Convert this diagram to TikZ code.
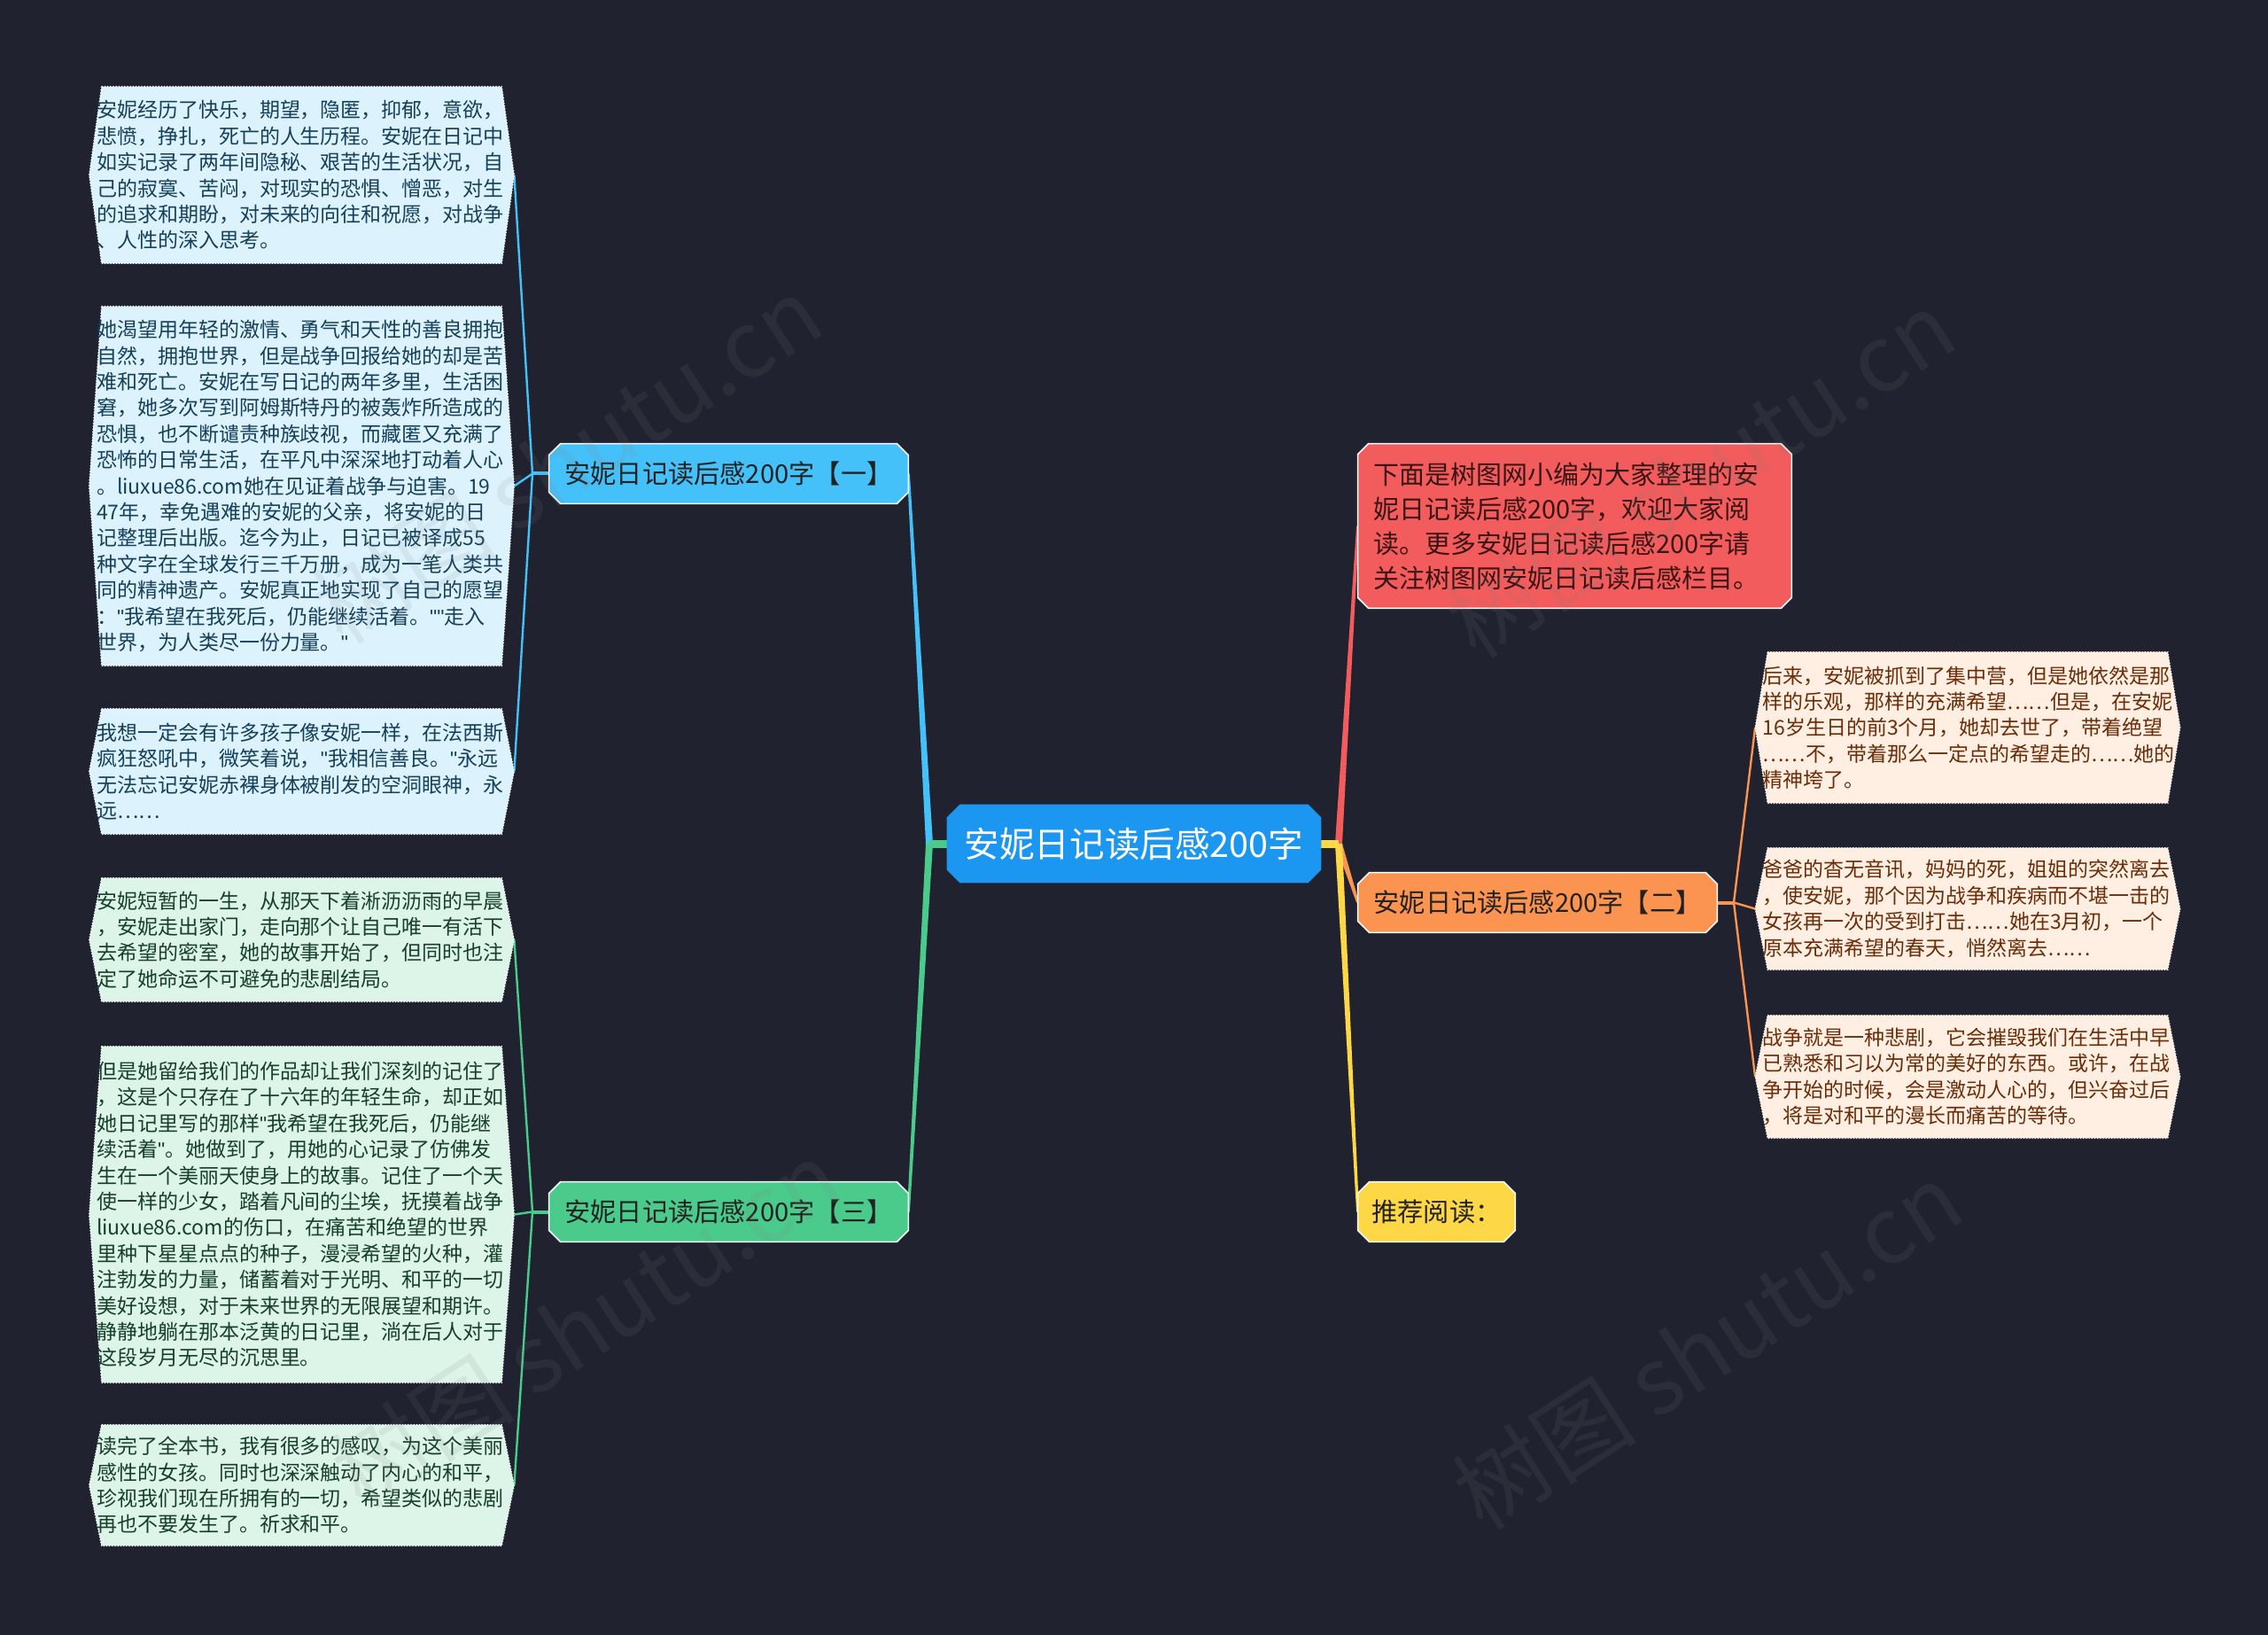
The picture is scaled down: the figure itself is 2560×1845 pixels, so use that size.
\documentclass[tikz,border=0pt]{standalone}
\usepackage{fontspec}
\setmainfont{Noto Sans CJK SC}
\newfontfamily\qfont{Liberation Sans}
\newcommand\myquote{{\qfont"}}
\usetikzlibrary{calc,backgrounds}
\definecolor{bg}{HTML}{20232F}
\definecolor{cmain}{HTML}{1B96F1}
\definecolor{cblue}{HTML}{45C1F9}
\definecolor{cbluel}{HTML}{DCF3FD}
\definecolor{cbluet}{HTML}{163F5A}
\definecolor{cgreen}{HTML}{4ACB8B}
\definecolor{cgreenl}{HTML}{DCF5E8}
\definecolor{cgreent}{HTML}{173F2A}
\definecolor{cred}{HTML}{F25C5C}
\definecolor{credt}{HTML}{3A1414}
\definecolor{corange}{HTML}{FB9450}
\definecolor{corangel}{HTML}{FFEEE2}
\definecolor{coranget}{HTML}{6B2C08}
\definecolor{cyellow}{HTML}{FDD745}
\definecolor{cdark}{HTML}{222222}
\newcommand\octfill[3]{\fill[#2] ($(#1.north west)+(#3,0)$) -- ($(#1.north east)+(-#3,0)$) -- ($(#1.north east)+(0,#3)$) -- ($(#1.south east)+(0,-#3)$) -- ($(#1.south east)+(-#3,0)$) -- ($(#1.south west)+(#3,0)$) -- ($(#1.south west)+(0,-#3)$) -- ($(#1.north west)+(0,#3)$) -- cycle;}
\newcommand\hexfill[2]{\fill[#2] ($(#1.north west)+(14,0)$) -- ($(#1.north east)+(-14,0)$) -- (#1.east) -- ($(#1.south east)+(-14,0)$) -- ($(#1.south west)+(14,0)$) -- (#1.west) -- cycle;}
\newcommand\taper[5]{\fill[#1] ($(#2)+(-#4,0)$) -- ($(#3)+(-#5,0)$) -- ($(#3)+(#5,0)$) -- ($(#2)+(#4,0)$) -- cycle;}
\tikzset{
  leaf/.style={rectangle, inner xsep=4pt, inner ysep=0pt, text width=231.5pt, align=left, font=\fontsize{11.5pt}{14.7pt}\selectfont},
  leafb/.style={leaf, text=cbluet},
  leafg/.style={leaf, text=cgreent},
  leafo/.style={leaf, text=coranget},
  br/.style={rectangle, minimum width=202.5pt, minimum height=33.5pt, inner sep=0pt, font=\fontsize{14.6pt}{17pt}\selectfont, text=cdark},
  leafshape/.style={draw=white, densely dotted, line width=0.6pt},
  brshape/.style={draw=white, line width=0.8pt},
  thinline/.style={line width=1.2pt},
  wm/.style={rotate=33, text=gray, opacity=0.12, font=\fontsize{52pt}{56pt}\selectfont}
}
\begin{document}
\begin{tikzpicture}[x=0.5pt,y=-0.5pt]
\useasboundingbox (0,0) rectangle (2560,1845);
% central node
\node[rectangle, minimum width=211pt, minimum height=44pt, inner sep=0pt, text=white, font=\fontsize{19.8pt}{23pt}\selectfont] (C) at (1280,952) {安妮日记读后感200字};
% branches
\node[br] (B1) at (822.5,534.5) {安妮日记读后感200字【一】};
\node[br] (B3) at (822.5,1367.5) {安妮日记读后感200字【三】};
\node[br] (B2) at (1735.5,1018.5) {安妮日记读后感200字【二】};
\node[br, minimum width=88.5pt] (Y) at (1621.5,1367.5) {推荐阅读：};
\node[rectangle, inner xsep=8.5pt, inner ysep=0pt, text width=227.5pt, minimum height=92.5pt, align=left, text=credt, font=\fontsize{14.5pt}{19.5pt}\selectfont] (R) at (1777.5,593.5) {下面是树图网小编为大家整理的安\\妮日记读后感200字，欢迎大家阅\\读。更多安妮日记读后感200字请\\关注树图网安妮日记读后感栏目。};
% leaves left blue
\node[leafb, minimum height=99.5pt] (L1) at (340.5,197.5) {安妮经历了快乐，期望，隐匿，抑郁，意欲，\\悲愤，挣扎，死亡的人生历程。安妮在日记中\\如实记录了两年间隐秘、艰苦的生活状况，自\\己的寂寞、苦闷，对现实的恐惧、憎恶，对生\\的追求和期盼，对未来的向往和祝愿，对战争\\、人性的深入思考。};
\node[leafb, minimum height=202.5pt] (L2) at (340.5,548.5) {她渴望用年轻的激情、勇气和天性的善良拥抱\\自然，拥抱世界，但是战争回报给她的却是苦\\难和死亡。安妮在写日记的两年多里，生活困\\窘，她多次写到阿姆斯特丹的被轰炸所造成的\\恐惧，也不断谴责种族歧视，而藏匿又充满了\\恐怖的日常生活，在平凡中深深地打动着人心\\。liuxue86.com她在见证着战争与迫害。19\\47年，幸免遇难的安妮的父亲，将安妮的日\\记整理后出版。迄今为止，日记已被译成55\\种文字在全球发行三千万册，成为一笔人类共\\同的精神遗产。安妮真正地实现了自己的愿望\\：\myquote{}我希望在我死后，仍能继续活着。\myquote{}\myquote{}走入\\世界，为人类尽一份力量。\myquote{}};
\node[leafb, minimum height=70.5pt] (L3) at (340.5,870.5) {我想一定会有许多孩子像安妮一样，在法西斯\\疯狂怒吼中，微笑着说，\myquote{}我相信善良。\myquote{}永远\\无法忘记安妮赤裸身体被削发的空洞眼神，永\\远……};
% leaves left green
\node[leafg, minimum height=69.5pt] (G1) at (340.5,1060.5) {安妮短暂的一生，从那天下着淅沥沥雨的早晨\\，安妮走出家门，走向那个让自己唯一有活下\\去希望的密室，她的故事开始了，但同时也注\\定了她命运不可避免的悲剧结局。};
\node[leafg, minimum height=189.5pt] (G2) at (340.5,1370.5) {但是她留给我们的作品却让我们深刻的记住了\\，这是个只存在了十六年的年轻生命，却正如\\她日记里写的那样\myquote{}我希望在我死后，仍能继\\续活着\myquote{}。她做到了，用她的心记录了仿佛发\\生在一个美丽天使身上的故事。记住了一个天\\使一样的少女，踏着凡间的尘埃，抚摸着战争\\liuxue86.com的伤口，在痛苦和绝望的世界\\里种下星星点点的种子，漫浸希望的火种，灌\\注勃发的力量，储蓄着对于光明、和平的一切\\美好设想，对于未来世界的无限展望和期许。\\静静地躺在那本泛黄的日记里，淌在后人对于\\这段岁月无尽的沉思里。};
\node[leafg, minimum height=68pt] (G3) at (340.5,1676) {读完了全本书，我有很多的感叹，为这个美丽\\感性的女孩。同时也深深触动了内心的和平，\\珍视我们现在所拥有的一切，希望类似的悲剧\\再也不要发生了。祈求和平。};
% leaves right orange
\node[leafo, minimum height=85pt] (O1) at (2221,821) {后来，安妮被抓到了集中营，但是她依然是那\\样的乐观，那样的充满希望……但是，在安妮\\16岁生日的前3个月，她却去世了，带着绝望\\……不，带着那么一定点的希望走的……她的\\精神垮了。};
\node[leafo, minimum height=68.5pt] (O2) at (2221,1025.5) {爸爸的杳无音讯，妈妈的死，姐姐的突然离去\\，使安妮，那个因为战争和疾病而不堪一击的\\女孩再一次的受到打击……她在3月初，一个\\原本充满希望的春天，悄然离去……};
\node[leafo, minimum height=69pt] (O3) at (2221,1215) {战争就是一种悲剧，它会摧毁我们在生活中早\\已熟悉和习以为常的美好的东西。或许，在战\\争开始的时候，会是激动人心的，但兴奋过后\\，将是对和平的漫长而痛苦的等待。};
% junction points
\coordinate (cl) at (1049,952);
\coordinate (cr) at (1511,952);
\coordinate (b1l) at (601,534.5);
\coordinate (b3l) at (601,1367.5);
\coordinate (b2r) at (1957,1018.5);
\begin{scope}[on background layer]
\fill[bg] (0,0) rectangle (2560,1845);
% main connectors
\taper{cblue}{cl}{B1.east}{4}{1.5}
\taper{cgreen}{cl}{B3.east}{4}{1.5}
\draw[cblue, line width=4.5pt] (C.west) -- (cl);
\draw[cgreen, line width=4.5pt] (C.west) -- (cl);
\taper{cred}{cr}{R.west}{4}{1.5}
\taper{corange}{cr}{B2.west}{4}{1.5}
\taper{cyellow}{cr}{Y.west}{4}{1.5}
\draw[cred, line width=4.5pt] (C.east) -- (cr);
\draw[corange, line width=4.5pt] (C.east) -- (cr);
\draw[cyellow, line width=4.5pt] (C.east) -- (cr);
% leaf connectors
\draw[cblue, line width=2pt] (B1.west) -- (b1l);
\draw[cblue, thinline] (b1l) -- (L1.east);
\draw[cblue, thinline] (b1l) -- (L2.east);
\draw[cblue, thinline] (b1l) -- (L3.east);
\draw[cgreen, line width=2pt] (B3.west) -- (b3l);
\draw[cgreen, thinline] (b3l) -- (G1.east);
\draw[cgreen, thinline] (b3l) -- (G2.east);
\draw[cgreen, thinline] (b3l) -- (G3.east);
\draw[corange, line width=2pt] (B2.east) -- (b2r);
\draw[corange, thinline] (b2r) -- (O1.west);
\draw[corange, thinline] (b2r) -- (O2.west);
\draw[corange, thinline] (b2r) -- (O3.west);
% shapes
\octfill{C}{cmain}{15}
\octfill{B1}{cblue, brshape}{13}
\octfill{B3}{cgreen, brshape}{13}
\octfill{B2}{corange, brshape}{13}
\octfill{Y}{cyellow, brshape}{13}
\octfill{R}{cred, brshape}{12}
\hexfill{L1}{cbluel, leafshape}
\hexfill{L2}{cbluel, leafshape}
\hexfill{L3}{cbluel, leafshape}
\hexfill{G1}{cgreenl, leafshape}
\hexfill{G2}{cgreenl, leafshape}
\hexfill{G3}{cgreenl, leafshape}
\hexfill{O1}{corangel, leafshape}
\hexfill{O2}{corangel, leafshape}
\hexfill{O3}{corangel, leafshape}
\end{scope}
% watermarks
\node[wm] (W1) at (640,519) {树图 shutu.cn};
\node[wm] (W2) at (1919,535) {树图 shutu.cn};
\node[wm] (W3) at (661,1494) {树图 shutu.cn};
\node[wm] (W4) at (1927,1519) {树图 shutu.cn};
\end{tikzpicture}
\end{document}
